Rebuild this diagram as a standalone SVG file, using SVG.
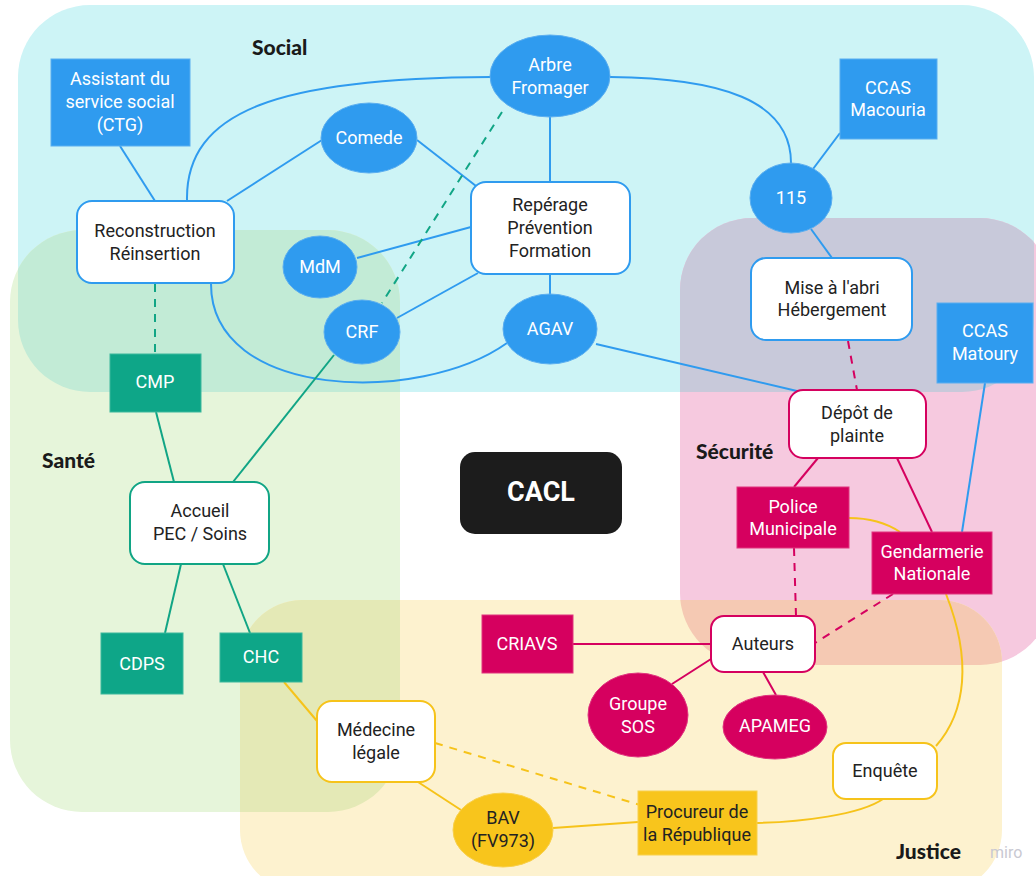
<svg xmlns="http://www.w3.org/2000/svg" width="1036" height="876" viewBox="0 0 1036 876">
<style>
.t{font-family:Roboto,"Liberation Sans",sans-serif;font-size:18px;text-anchor:middle;dominant-baseline:central}
.w{fill:#ffffff}
.d{fill:#222222}
.big{font-size:27px;font-weight:700}
.lbl{font-family:Lato,"Noto Sans",sans-serif;font-weight:900;font-size:21px;fill:#1a1a1a;dominant-baseline:central}
.cb{fill:none;stroke:#2f9bef;stroke-width:2}
.cg{fill:none;stroke:#11a585;stroke-width:2}
.cy{fill:none;stroke:#f6c31a;stroke-width:2}
.cm{fill:none;stroke:#d5015f;stroke-width:2}
.dash{stroke-dasharray:8 7}
.fb{fill:#2f9bef;stroke:#5aaef0;stroke-width:1}
.fg{fill:#0ea688;stroke:#3bb89c;stroke-width:1}
.fm{fill:#d6005f;stroke:#e0357f;stroke-width:1}
.fy{fill:#f8c51c;stroke:#f8d04c;stroke-width:1}
.wb{fill:#ffffff;stroke:#2f9bef;stroke-width:2}
.wg{fill:#ffffff;stroke:#11a585;stroke-width:2}
.wy{fill:#ffffff;stroke:#f6c31a;stroke-width:2}
.wm{fill:#ffffff;stroke:#d5015f;stroke-width:2}
</style>
<defs>
<clipPath id="clSocial"><rect x="18" y="5" width="1016" height="387" rx="72"/></clipPath>
<clipPath id="clJus"><rect x="240" y="600" width="762" height="292" rx="62"/></clipPath>
</defs>
<rect width="1036" height="876" fill="#ffffff"/>
<g id="regions">
<rect x="18" y="5" width="1016" height="387" rx="72" fill="#cdf4f6"/>
<rect x="10" y="230" width="390" height="582" rx="72" fill="#e6f5da"/>
<rect x="680" y="218" width="372" height="447" rx="72" fill="#f6c9df"/>
<rect x="240" y="600" width="762" height="292" rx="62" fill="#fdf2cf"/>
<rect x="10" y="230" width="390" height="582" rx="72" fill="#c2ebd6" clip-path="url(#clSocial)"/>
<rect x="680" y="218" width="372" height="447" rx="72" fill="#c8c9da" clip-path="url(#clSocial)"/>
<rect x="10" y="230" width="390" height="582" rx="72" fill="#e4e9b6" clip-path="url(#clJus)"/>
<rect x="680" y="218" width="372" height="447" rx="72" fill="#f5c9b3" clip-path="url(#clJus)"/>
<text class="lbl" x="252" y="46">Social</text>
<text class="lbl" x="42" y="459">Santé</text>
<text class="lbl" x="696" y="450">Sécurité</text>
<text class="lbl" x="896" y="850">Justice</text>
<text x="990" y="852" font-family="Roboto,'Liberation Sans',sans-serif" font-size="16" fill="#c9c9d2" dominant-baseline="central">miro</text>
</g>
<g id="connectors">
<line class="cb" x1="120" y1="146" x2="155" y2="201"/>
<path class="cb" d="M187,201 C185,110 280,78 491,77"/>
<path class="cb" d="M610,77 C720,78 791,100 791,163"/>
<line class="cb" x1="227" y1="201" x2="322" y2="140"/>
<line class="cb" x1="417" y1="140" x2="476" y2="186"/>
<line class="cb" x1="550" y1="117" x2="550" y2="182"/>
<line class="cb" x1="357" y1="258" x2="471" y2="227"/>
<line class="cb" x1="397" y1="318" x2="478" y2="273"/>
<line class="cb" x1="550" y1="274" x2="550" y2="295"/>
<path class="cb" d="M211,283 C210,400 420,405 507,343"/>
<line class="cb" x1="596" y1="344" x2="797" y2="391"/>
<line class="cb" x1="813" y1="169" x2="840" y2="133"/>
<line class="cb" x1="811" y1="229" x2="832" y2="258"/>
<line class="cb" x1="985" y1="383" x2="962" y2="532"/>
<line class="cg dash" x1="155" y1="284" x2="155" y2="354"/>
<line class="cg dash" x1="502" y1="112" x2="382" y2="303"/>
<line class="cg" x1="156" y1="412" x2="174" y2="482"/>
<line class="cg" x1="334" y1="355" x2="233" y2="482"/>
<line class="cg" x1="181" y1="564" x2="165" y2="633"/>
<line class="cg" x1="223" y1="564" x2="250" y2="633"/>
<line class="cy" x1="284" y1="682" x2="317" y2="721"/>
<line class="cy" x1="418" y1="782" x2="461" y2="810"/>
<line class="cy dash" x1="435" y1="743" x2="640" y2="805"/>
<line class="cy" x1="553" y1="828" x2="638" y2="822"/>
<path class="cy" d="M757,823 C800,822 860,815 883,799"/>
<path class="cy" d="M946,594 C972,660 966,712 936,746"/>
<path class="cy" d="M849,518 C870,518 888,524 900,532"/>
<line class="cm dash" x1="848" y1="341" x2="857" y2="390"/>
<line class="cm" x1="818" y1="458" x2="794" y2="487"/>
<line class="cm" x1="897" y1="458" x2="932" y2="532"/>
<line class="cm dash" x1="794" y1="548" x2="796" y2="616"/>
<line class="cm dash" x1="893" y1="594" x2="815" y2="643"/>
<line class="cm" x1="573" y1="644" x2="711" y2="644"/>
<line class="cm" x1="711" y1="659" x2="672" y2="684"/>
<line class="cm" x1="763" y1="672" x2="776" y2="695"/>
</g>
<g id="n-assistant"><rect class="fb" x="51" y="59" width="139" height="87"/><text class="t w" x="120" y="78">Assistant du</text><text class="t w" x="120" y="101">service social</text><text class="t w" x="120" y="124">(CTG)</text></g>
<g id="n-reconstruction"><rect class="wb" x="77" y="201" width="157" height="82" rx="15"/><text class="t d" x="155" y="230">Reconstruction</text><text class="t d" x="155" y="253">Réinsertion</text></g>
<g id="n-comede"><ellipse class="fb" cx="369" cy="138" rx="48" ry="35"/><text class="t w" x="369" y="137">Comede</text></g>
<g id="n-arbre"><ellipse class="fb" cx="550" cy="76" rx="60" ry="41"/><text class="t w" x="550" y="64">Arbre</text><text class="t w" x="550" y="87">Fromager</text></g>
<g id="n-reperage"><rect class="wb" x="471" y="182" width="159" height="92" rx="15"/><text class="t d" x="550" y="204">Repérage</text><text class="t d" x="550" y="227">Prévention</text><text class="t d" x="550" y="250">Formation</text></g>
<g id="n-mdm"><ellipse class="fb" cx="320" cy="267" rx="37" ry="31"/><text class="t w" x="320" y="266">MdM</text></g>
<g id="n-crf"><ellipse class="fb" cx="362" cy="332" rx="38" ry="32"/><text class="t w" x="362" y="331">CRF</text></g>
<g id="n-agav"><ellipse class="fb" cx="550" cy="329" rx="47" ry="35"/><text class="t w" x="550" y="328">AGAV</text></g>
<g id="n-115"><ellipse class="fb" cx="791" cy="198" rx="41" ry="35"/><text class="t w" x="791" y="197">115</text></g>
<g id="n-ccas-macouria"><rect class="fb" x="840" y="59" width="97" height="80"/><text class="t w" x="888" y="87">CCAS</text><text class="t w" x="888" y="109">Macouria</text></g>
<g id="n-mise-abri"><rect class="wb" x="751" y="258" width="161" height="82" rx="15"/><text class="t d" x="832" y="287">Mise à l'abri</text><text class="t d" x="832" y="309">Hébergement</text></g>
<g id="n-ccas-matoury"><rect class="fb" x="937" y="303" width="96" height="80"/><text class="t w" x="985" y="330">CCAS</text><text class="t w" x="985" y="353">Matoury</text></g>
<g id="n-cmp"><rect class="fg" x="110" y="354" width="91" height="58"/><text class="t w" x="155" y="381">CMP</text></g>
<g id="n-accueil"><rect class="wg" x="130" y="482" width="139" height="82" rx="15"/><text class="t d" x="200" y="510">Accueil</text><text class="t d" x="200" y="533">PEC / Soins</text></g>
<g id="n-cdps"><rect class="fg" x="101" y="633" width="82" height="61"/><text class="t w" x="142" y="663">CDPS</text></g>
<g id="n-chc"><rect class="fg" x="220" y="633" width="82" height="49"/><text class="t w" x="261" y="656">CHC</text></g>
<g id="n-medecine"><rect class="wy" x="317" y="701" width="118" height="81" rx="15"/><text class="t d" x="376" y="729">Médecine</text><text class="t d" x="376" y="752">légale</text></g>
<g id="n-bav"><ellipse class="fy" cx="503" cy="830" rx="50" ry="37"/><text class="t d" x="503" y="817">BAV</text><text class="t d" x="503" y="840">(FV973)</text></g>
<g id="n-procureur"><rect class="fy" x="638" y="791" width="119" height="64"/><text class="t d" x="697" y="811">Procureur de</text><text class="t d" x="697" y="834">la République</text></g>
<g id="n-enquete"><rect class="wy" x="833" y="743" width="104" height="56" rx="13"/><text class="t d" x="885" y="770">Enquête</text></g>
<g id="n-depot"><rect class="wm" x="789" y="390" width="137" height="68" rx="14"/><text class="t d" x="857" y="412">Dépôt de</text><text class="t d" x="857" y="435">plainte</text></g>
<g id="n-police"><rect class="fm" x="737" y="487" width="112" height="61"/><text class="t w" x="793" y="506">Police</text><text class="t w" x="793" y="528">Municipale</text></g>
<g id="n-gendarmerie"><rect class="fm" x="872" y="532" width="120" height="62"/><text class="t w" x="932" y="551">Gendarmerie</text><text class="t w" x="932" y="573">Nationale</text></g>
<g id="n-auteurs"><rect class="wm" x="711" y="616" width="104" height="56" rx="13"/><text class="t d" x="763" y="643">Auteurs</text></g>
<g id="n-criavs"><rect class="fm" x="482" y="615" width="91" height="58"/><text class="t w" x="527" y="643">CRIAVS</text></g>
<g id="n-groupe-sos"><ellipse class="fm" cx="638" cy="715" rx="50" ry="42"/><text class="t w" x="638" y="703">Groupe</text><text class="t w" x="638" y="726">SOS</text></g>
<g id="n-apameg"><ellipse class="fm" cx="775" cy="727" rx="52" ry="32"/><text class="t w" x="775" y="725">APAMEG</text></g>
<g id="n-cacl"><rect x="460" y="452" width="162" height="82" rx="15" fill="#1c1c1c"/><text class="t w big" x="541" y="492">CACL</text></g>
</svg>
